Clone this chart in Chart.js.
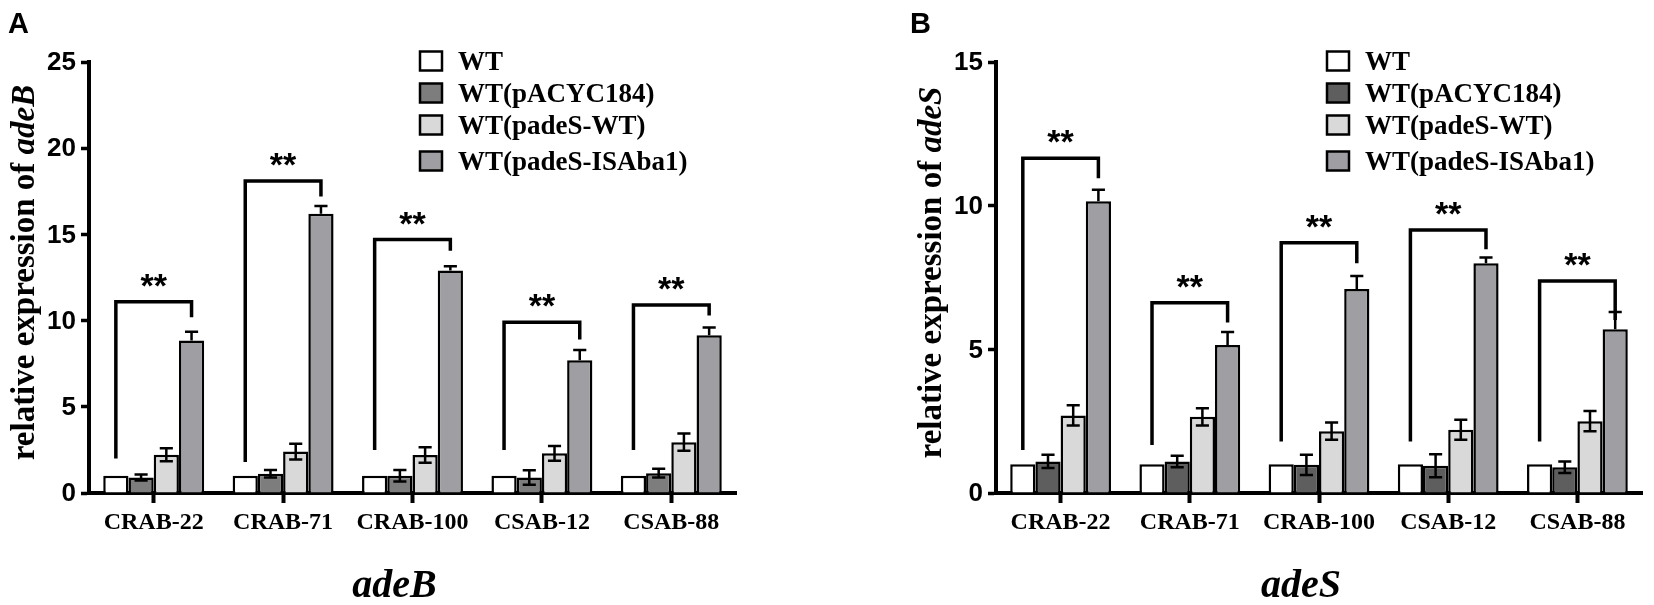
<!DOCTYPE html>
<html>
<head>
<meta charset="utf-8">
<title>adeB / adeS relative expression</title>
<script src="https://cdn.jsdelivr.net/npm/chart.js@4.4.1/dist/chart.umd.min.js"></script>
<style>
  html, body { margin: 0; padding: 0; background: #fff; }
  #wrap { position: relative; width: 1654px; height: 605px; overflow: hidden; }
  .panel { position: absolute; top: 0; width: 827px; height: 605px; }
  #panelA { left: 0; }
  #panelB { left: 827px; }
</style>
</head>
<body>
<div id="wrap">
  <div class="panel" id="panelA"><canvas id="chartA"></canvas></div>
  <div class="panel" id="panelB"><canvas id="chartB"></canvas></div>
</div>
<script>
// ---- data ----
const strains = ['CRAB-22', 'CRAB-71', 'CRAB-100', 'CSAB-12', 'CSAB-88'];
const seriesNames = ['WT', 'WT(pACYC184)', 'WT(padeS-WT)', 'WT(padeS-ISAba1)'];

// panel A: adeB
const adeB_WT = [1, 1, 1, 1, 1];
const adeB_pACYC = [0.9, 1.12, 1.0, 0.9, 1.15];
const adeB_padeSWT = [2.22, 2.4, 2.2, 2.3, 2.95];
const adeB_ISAba1 = [8.85, 16.2, 12.9, 7.7, 9.15];
const adeB_pACYC_err = [0.18, 0.22, 0.33, 0.42, 0.25];
const adeB_padeSWT_err = [0.38, 0.45, 0.45, 0.43, 0.5];
const adeB_ISAba1_err = [0.5, 0.45, 0.25, 0.6, 0.45];
const adeB_brTop = [11.1, 18.1, 14.7, 9.9, 10.9];
const adeB_brLeft = [2.0, 1.8, 2.5, 2.5, 2.5];
const adeB_brRight = [10.2, 17.2, 14.05, 8.9, 10.3];
const adeB_ticks = [0, 5, 10, 15, 20, 25];

// panel B: adeS
const adeS_WT = [1, 1, 1, 1, 1];
const adeS_pACYC = [1.1, 1.1, 0.98, 0.95, 0.9];
const adeS_padeSWT = [2.7, 2.65, 2.15, 2.2, 2.5];
const adeS_ISAba1 = [10.15, 5.15, 7.1, 8.0, 5.7];
const adeS_pACYC_err = [0.23, 0.2, 0.35, 0.4, 0.2];
const adeS_padeSWT_err = [0.35, 0.3, 0.3, 0.35, 0.35];
const adeS_ISAba1_err = [0.4, 0.45, 0.45, 0.2, 0.6];
const adeS_brTop = [11.65, 6.62, 8.71, 9.15, 7.38];
const adeS_brLeft = [1.5, 1.67, 1.79, 1.79, 1.79];
const adeS_brRight = [10.95, 5.93, 8.0, 8.48, 6.02];
const adeS_ticks = [0, 5, 10, 15];

const SERIF = '"Liberation Serif", "Times New Roman", serif';
const SANS = '"Liberation Sans", Arial, sans-serif';

// draws tick labels, titles, legend, error bars and significance brackets
const decorPlugin = {
  id: 'decor',
  afterDatasetsDraw(chart, args, opts) {
    const ctx = chart.ctx;
    const yScale = chart.scales.y;
    ctx.save();
    ctx.strokeStyle = '#000';
    ctx.lineWidth = 2.5;
    opts.errors.forEach((errs, d) => {
      if (!errs) return;
      const meta = chart.getDatasetMeta(d);
      meta.data.forEach((bar, i) => {
        const v = chart.data.datasets[d].data[i];
        const down = opts.errorDown[d];
        const yTop = yScale.getPixelForValue(v + errs[i]);
        const yBot = yScale.getPixelForValue(down ? v - errs[i] : v);
        const half = bar.width * 0.26;
        ctx.beginPath();
        ctx.moveTo(bar.x, yBot);
        ctx.lineTo(bar.x, yTop);
        ctx.moveTo(bar.x - half, yTop);
        ctx.lineTo(bar.x + half, yTop);
        if (down) {
          ctx.moveTo(bar.x - half, yBot);
          ctx.lineTo(bar.x + half, yBot);
        }
        ctx.stroke();
      });
    });
    ctx.restore();
  },
  afterDraw(chart, args, opts) {
    const ctx = chart.ctx;
    const area = chart.chartArea;
    const xScale = chart.scales.x;
    const yScale = chart.scales.y;
    ctx.save();
    ctx.fillStyle = '#000';

    // y tick labels
    ctx.font = 'bold 26px ' + SANS;
    ctx.textAlign = 'right';
    ctx.textBaseline = 'middle';
    yScale.ticks.forEach(t => {
      ctx.fillText(String(t.value), area.left - 13, yScale.getPixelForValue(t.value) + 1);
    });

    // x tick labels
    ctx.font = 'bold 24px ' + SERIF;
    ctx.textAlign = 'center';
    ctx.textBaseline = 'alphabetic';
    chart.data.labels.forEach((lab, i) => {
      ctx.fillText(lab, xScale.getPixelForValue(i), area.bottom + 36);
    });

    // x title (italic gene name)
    ctx.font = 'italic bold 40px ' + SERIF;
    ctx.fillText(opts.gene, (area.left + area.right) / 2 - 18, 597);

    // y title, rotated, with italic gene name
    const size = 33;
    const f1 = 'bold ' + size + 'px ' + SERIF;
    const f2 = 'italic bold ' + size + 'px ' + SERIF;
    const plain = 'relative expression of ';
    ctx.font = f1;
    const w1 = ctx.measureText(plain).width;
    ctx.font = f2;
    const w2 = ctx.measureText(opts.gene).width;
    ctx.save();
    ctx.translate(area.left - 55, (area.top + area.bottom) / 2 - 5);
    ctx.rotate(-Math.PI / 2);
    ctx.textAlign = 'left';
    ctx.font = f1;
    ctx.fillText(plain, -(w1 + w2) / 2, 0);
    ctx.font = f2;
    ctx.fillText(opts.gene, -(w1 + w2) / 2 + w1, 0);
    ctx.restore();

    // panel letter
    ctx.font = 'bold 29px ' + SANS;
    ctx.textAlign = 'left';
    ctx.fillText(opts.letter, opts.letterX, 33);

    // legend
    const lx = area.left + 331;
    ctx.font = 'bold 27px ' + SERIF;
    chart.data.datasets.forEach((ds, d) => {
      const cy = opts.legendRows[d];
      ctx.fillStyle = ds.backgroundColor;
      ctx.fillRect(lx, cy - 9.5, 22, 19);
      ctx.strokeStyle = '#000';
      ctx.lineWidth = 2.5;
      ctx.strokeRect(lx, cy - 9.5, 22, 19);
      ctx.fillStyle = '#000';
      ctx.fillText(ds.label, lx + 38, cy + 9);
    });

    // significance brackets between WT and padeS-ISAba1
    const wtMeta = chart.getDatasetMeta(0);
    const isMeta = chart.getDatasetMeta(3);
    ctx.strokeStyle = '#000';
    ctx.lineWidth = 3.5;
    ctx.lineJoin = 'miter';
    ctx.textAlign = 'center';
    ctx.font = 'bold 34px ' + SANS;
    opts.brTop.forEach((top, i) => {
      const xL = wtMeta.data[i].x;
      const xR = isMeta.data[i].x;
      const yT = yScale.getPixelForValue(top);
      ctx.beginPath();
      ctx.moveTo(xL, yScale.getPixelForValue(opts.brLeft[i]));
      ctx.lineTo(xL, yT);
      ctx.lineTo(xR, yT);
      ctx.lineTo(xR, yScale.getPixelForValue(opts.brRight[i]));
      ctx.stroke();
      ctx.fillText('**', (xL + xR) / 2, yT - 5);
    });
    ctx.restore();
  }
};

function makePanel(canvasId, cfg) {
  const datasets = cfg.values.map((vals, d) => ({
    label: seriesNames[d],
    data: vals,
    backgroundColor: cfg.colors[d],
    borderColor: '#000',
    borderWidth: 2.5,
    categoryPercentage: 0.78,
    barPercentage: 1.0
  }));

  return new Chart(document.getElementById(canvasId), {
    type: 'bar',
    data: { labels: strains, datasets: datasets },
    options: {
      responsive: true,
      maintainAspectRatio: false,
      animation: false,
      layout: { padding: { left: 0, right: cfg.padRight, top: 62, bottom: 0 } },
      scales: {
        x: {
          offset: true,
          ticks: { display: false },
          grid: {
            display: true, drawOnChartArea: false, drawTicks: true, offset: false,
            tickLength: 10, tickWidth: 4, tickColor: '#000'
          },
          border: { display: true, color: '#000', width: 4 },
          afterFit(scale) { scale.height = 112; }
        },
        y: {
          min: 0,
          max: cfg.ticks[cfg.ticks.length - 1],
          afterBuildTicks(scale) { scale.ticks = cfg.ticks.map(v => ({ value: v })); },
          ticks: { display: false },
          grid: {
            display: true, drawOnChartArea: false, drawTicks: true,
            tickLength: 8, tickWidth: 3.5, tickColor: '#000'
          },
          border: { display: true, color: '#000', width: 4 },
          afterFit(scale) { scale.width = cfg.axisLeft; }
        }
      },
      plugins: {
        legend: { display: false },
        tooltip: { enabled: false },
        decor: {
          gene: cfg.gene,
          letter: cfg.letter,
          letterX: cfg.letterX,
          legendRows: [61, 93, 125, 161],
          errors: cfg.errors,
          errorDown: [false, true, true, false],
          brTop: cfg.brTop,
          brLeft: cfg.brLeft,
          brRight: cfg.brRight
        }
      }
    },
    plugins: [decorPlugin]
  });
}

makePanel('chartA', {
  gene: 'adeB', letter: 'A', letterX: 8,
  axisLeft: 89, padRight: 91,
  ticks: adeB_ticks,
  values: [adeB_WT, adeB_pACYC, adeB_padeSWT, adeB_ISAba1],
  errors: [null, adeB_pACYC_err, adeB_padeSWT_err, adeB_ISAba1_err],
  colors: ['#ffffff', '#7d7d7d', '#d9d9d9', '#9e9ea3'],
  brTop: adeB_brTop, brLeft: adeB_brLeft, brRight: adeB_brRight
});

makePanel('chartB', {
  gene: 'adeS', letter: 'B', letterX: 910 - 827,
  axisLeft: 996 - 827, padRight: 12,
  ticks: adeS_ticks,
  values: [adeS_WT, adeS_pACYC, adeS_padeSWT, adeS_ISAba1],
  errors: [null, adeS_pACYC_err, adeS_padeSWT_err, adeS_ISAba1_err],
  colors: ['#ffffff', '#5e5e5e', '#d9d9d9', '#9e9ea3'],
  brTop: adeS_brTop, brLeft: adeS_brLeft, brRight: adeS_brRight
});
</script>
</body>
</html>
